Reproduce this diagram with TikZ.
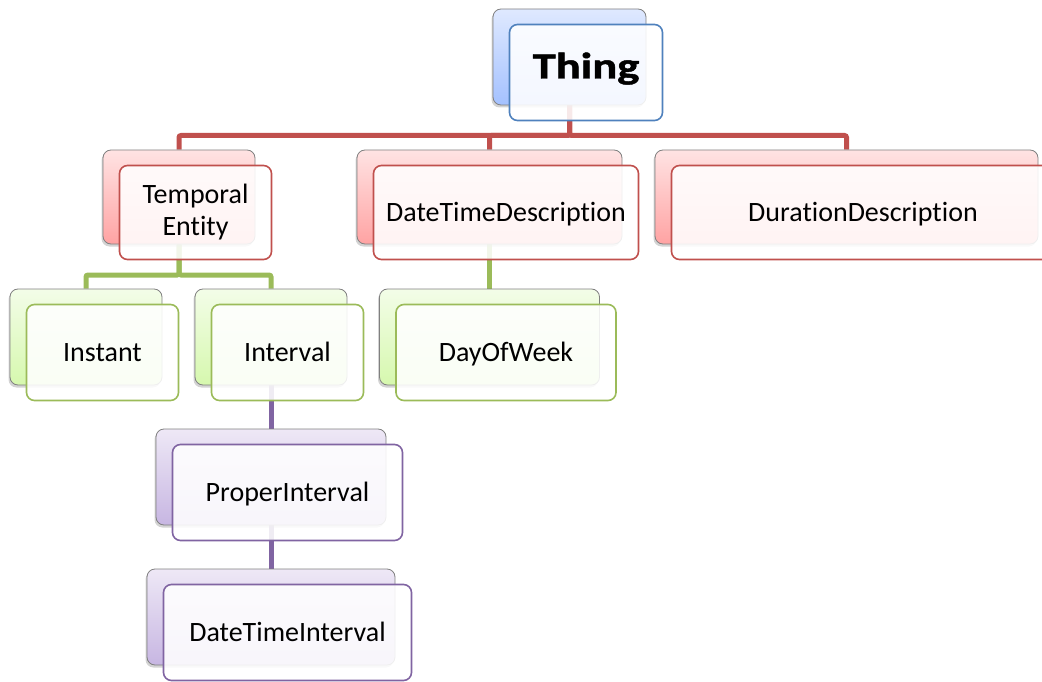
\documentclass[tikz,border=0pt]{standalone}
\usepackage{fontspec}
\setmainfont{Carlito}[Ligatures={NoCommon}]
\newfontfamily\titlefont{Carlito}[Ligatures={NoCommon}, BoldFeatures={FakeBold=1.2}]
\usetikzlibrary{shadows,backgrounds}

% colour schemes: box top / box bottom / outline
\definecolor{blueTop}{HTML}{DFE9FF}
\definecolor{blueBot}{HTML}{A4C1FF}
\definecolor{blueLine}{HTML}{4F81BD}
\definecolor{redTop}{HTML}{FFE3E3}
\definecolor{redBot}{HTML}{FFA3A3}
\definecolor{redLine}{HTML}{C0504D}
\definecolor{greenTop}{HTML}{F3FDE8}
\definecolor{greenBot}{HTML}{D6F8AE}
\definecolor{greenLine}{HTML}{9BBB59}
\definecolor{purpleTop}{HTML}{EEE8F6}
\definecolor{purpleBot}{HTML}{C7B6E2}
\definecolor{purpleLine}{HTML}{8064A2}

\tikzset{
  backbox/.style={rectangle, rounded corners=8pt, draw=black!50, line width=0.8pt,
    top color=#1Top, bottom color=#1Bot,
    drop shadow={shadow xshift=-1.5pt, shadow yshift=-2.5pt, opacity=0.35},
    inner sep=0pt},
  frontbox/.style={rectangle, rounded corners=8pt, draw=#1Line, line width=1.6pt,
    fill=white, fill opacity=0.88, text opacity=1, inner sep=0pt, align=center,
    font=\fontsize{28}{32}\selectfont},
  oneline/.style={text height=18pt, text depth=0pt},
  link/.style={line width=5pt, rounded corners=2pt, draw=#1Line},
}

% a class box: shaded box behind, outlined box with the label in front
% #1 name, #2 x, #3 y, #4 width, #5 height, #6 scheme, #7 extra front options, #8 label
\newcommand\classpair[8]{%
  \node[backbox=#6, minimum width=#4pt, minimum height=#5pt] (#1B) at (#2,#3) {};
  \node[frontbox=#6, minimum width=#4pt, minimum height=#5pt, #7]
    (#1) at ([xshift=16.5pt,yshift=-15.5pt]#1B.center) {#8};
}

\begin{document}
\begin{tikzpicture}[x=1pt,y=-1pt]
  \useasboundingbox (0,0) rectangle (1042,682);

  \classpair{thing}{569.5}{57}{153}{96}{blue}
    {text height=24pt, text depth=12pt, font=\titlefont\fontsize{37}{40}\selectfont\bfseries}
    {\scalebox{1.26}[1]{Thing}}

  \classpair{temporal}{179}{197}{152}{94}{red}{}{Temporal\\Entity}
  \classpair{dtdesc}{489.5}{197}{265}{94}{red}{oneline}{DateTimeDescription}
  \classpair{durdesc}{846.5}{197}{383}{94}{red}{oneline}{DurationDescription}

  \classpair{instant}{86}{337}{152}{96}{green}{oneline}{Instant}
  \classpair{interval}{271}{337}{152}{96}{green}{oneline}{Interval}
  \classpair{dayofweek}{489.5}{337}{220}{96}{green}{oneline}{DayOfWeek}

  \classpair{proper}{271}{477}{230}{96}{purple}{oneline}{ProperInterval}
  \classpair{dtinterval}{271}{617}{248}{96}{purple}{oneline}{DateTimeInterval}

  % hierarchy connectors, drawn underneath the boxes
  \coordinate (busTop) at (0,135.5);
  \coordinate (busMid) at (0,275);
  \begin{scope}[on background layer]
    \draw[link=red] (thingB.south) -- (thingB.south |- busTop) -| (temporalB.north);
    \draw[link=red] (thingB.south) -- (thingB.south |- busTop) -| (dtdescB.north);
    \draw[link=red] (thingB.south) -- (thingB.south |- busTop) -| (durdescB.north);
    \draw[link=green] (temporalB.south) -- (temporalB.south |- busMid) -| (instantB.north);
    \draw[link=green] (temporalB.south) -- (temporalB.south |- busMid) -| (intervalB.north);
    \draw[link=green] (dtdescB.south) -- (dayofweekB.north);
    \draw[link=purple] (intervalB.south) -- (properB.north);
    \draw[link=purple] (properB.south) -- (dtintervalB.north);
  \end{scope}
\end{tikzpicture}
\end{document}
